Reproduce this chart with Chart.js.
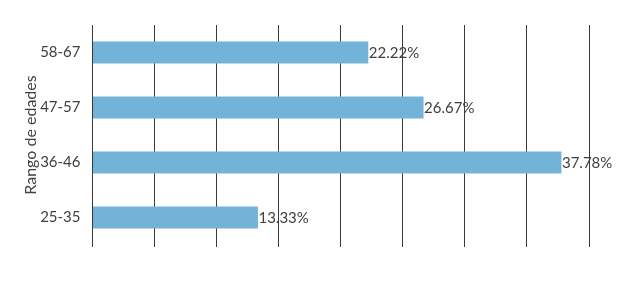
<!DOCTYPE html>
<html>
<head>
<meta charset="utf-8">
<script src="https://cdn.jsdelivr.net/npm/chart.js@4.4.0/dist/chart.umd.min.js"></script>
<style>
  html, body { margin: 0; padding: 0; background: #fff; }
  #wrap { width: 624px; height: 281px; }
</style>
</head>
<body>
<div id="wrap"><canvas id="myChart" width="624" height="281"></canvas></div>
<script>
// data
const categories = ['58-67', '47-57', '36-46', '25-35'];
const values = [22.22, 26.67, 37.78, 13.33];
const axisTitle = 'Rango de edades';

const textColor = '#404040';
const fontFamily = 'Lato, "Open Sans", sans-serif';

// draws the % label right after each bar
const valueLabels = {
    id: 'valueLabels',
    afterDatasetsDraw(chart) {
        const ctx = chart.ctx;
        const meta = chart.getDatasetMeta(0);
        ctx.save();
        ctx.font = '15px ' + fontFamily;
        ctx.fillStyle = textColor;
        ctx.textAlign = 'left';
        ctx.textBaseline = 'middle';
        meta.data.forEach((bar, i) => {
            ctx.fillText(values[i].toFixed(2) + '%', bar.x + 0.5, bar.y + 1);
        });
        ctx.restore();
    }
};

var ctx = document.getElementById('myChart').getContext('2d');
var chart = new Chart(ctx, {
    type: 'bar',
    data: {
        labels: categories,
        datasets: [{
            data: values,
            backgroundColor: '#73b3d8',
            barPercentage: 0.8,
            categoryPercentage: 0.5
        }]
    },
    options: {
        indexAxis: 'y',
        responsive: false,
        animation: false,
        layout: { padding: { top: 25, right: 35, left: 0, bottom: 0 } },
        plugins: {
            legend: { display: false },
            tooltip: { enabled: false }
        },
        scales: {
            x: {
                min: 0,
                max: 40,
                ticks: { display: false, stepSize: 5 },
                grid: { color: '#3a3a3a', lineWidth: 1, drawTicks: true, tickLength: 2 },
                border: { display: false },
                afterFit: (scale) => { scale.height = 36; }
            },
            y: {
                ticks: {
                    color: textColor,
                    padding: 4,
                    font: { family: fontFamily, size: 15 }
                },
                grid: { display: false },
                border: { display: false },
                title: {
                    display: true,
                    text: axisTitle,
                    color: textColor,
                    font: { family: fontFamily, size: 16 },
                    padding: { top: 21, bottom: 0 }
                },
                afterFit: (scale) => { scale.width = 92.5; }
            }
        }
    },
    plugins: [valueLabels]
});
</script>
</body>
</html>
